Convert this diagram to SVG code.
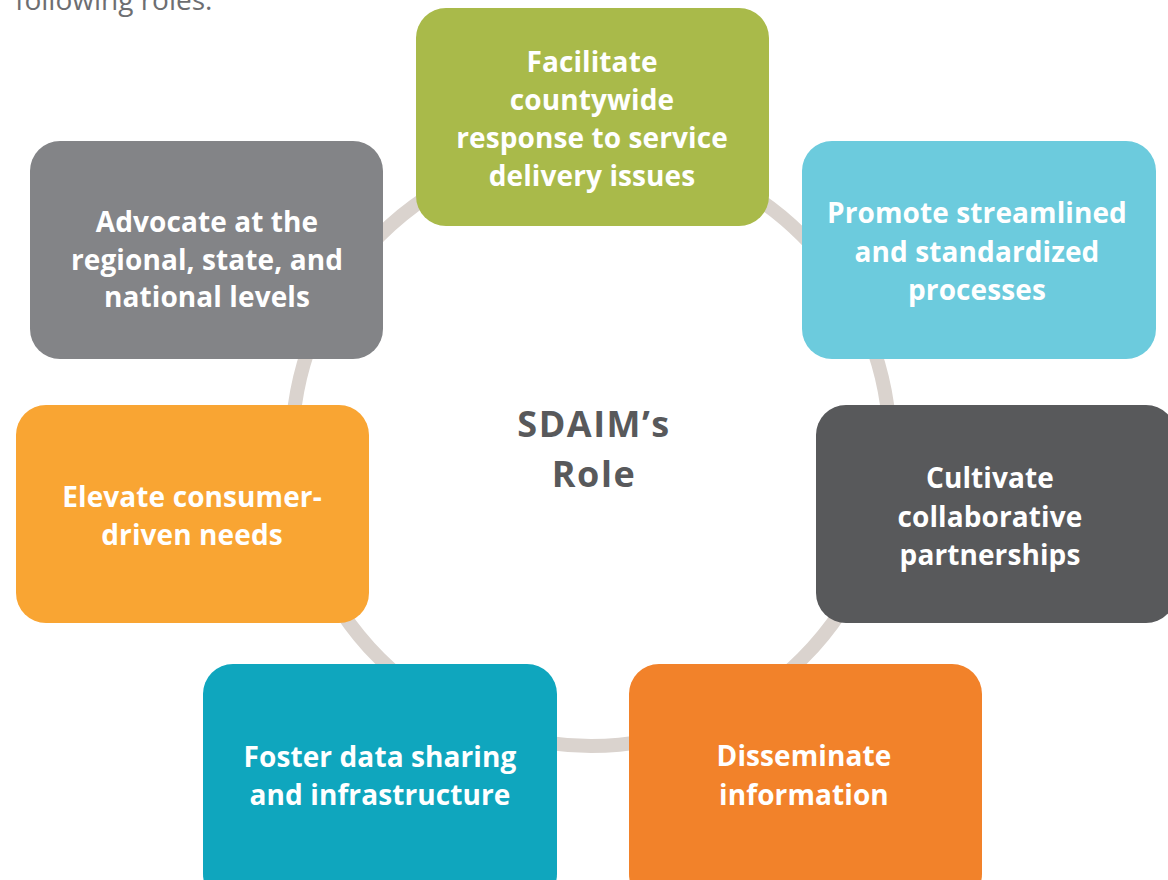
<svg xmlns="http://www.w3.org/2000/svg" width="1168" height="880" viewBox="0 0 1168 880">
<style>
.box{stroke:none}
.t{font-family:"Open Sans","Liberation Sans",sans-serif;font-weight:700;font-size:28px;letter-spacing:0.1px;fill:#ffffff;text-anchor:middle}
.c{font-family:"Open Sans","Liberation Sans",sans-serif;font-weight:700;font-size:36px;letter-spacing:1.5px;fill:#58595b;text-anchor:middle}
.top{font-family:"Open Sans","Liberation Sans",sans-serif;font-size:28px;fill:#6d6e71}
</style>
<rect width="1168" height="880" fill="#ffffff"/>
<text class="top" x="15" y="10">following roles:</text>
<g id="connectors">
<circle cx="591" cy="447" r="299" fill="none" stroke="#dad3ce" stroke-width="14"/>
</g>
<g id="center">
<text class="c" x="594" y="437">SDAIM’s</text>
<text class="c" x="594" y="487">Role</text>
</g>
<g id="n1">
<rect class="box" x="416" y="8" width="353" height="218" rx="30" fill="#a9ba4a"/>
<text class="t" x="592" y="72">Facilitate</text>
<text class="t" x="592" y="110">countywide</text>
<text class="t" x="592" y="148">response to service</text>
<text class="t" x="592" y="186">delivery issues</text>
</g>
<g id="n2">
<rect class="box" x="802" y="141" width="354" height="218" rx="30" fill="#6ccbdd"/>
<text class="t" x="977" y="223">Promote streamlined</text>
<text class="t" x="977" y="262">and standardized</text>
<text class="t" x="977" y="300">processes</text>
</g>
<g id="n3">
<rect class="box" x="816" y="405" width="360" height="218" rx="30" fill="#58595b"/>
<text class="t" x="990" y="488">Cultivate</text>
<text class="t" x="990" y="527">collaborative</text>
<text class="t" x="990" y="565">partnerships</text>
</g>
<g id="n4">
<rect class="box" x="629" y="664" width="353" height="240" rx="30" fill="#f2822a"/>
<text class="t" x="804" y="766">Disseminate</text>
<text class="t" x="804" y="805">information</text>
</g>
<g id="n5">
<rect class="box" x="203" y="664" width="354" height="240" rx="30" fill="#0fa6be"/>
<text class="t" x="380" y="767">Foster data sharing</text>
<text class="t" x="380" y="805">and infrastructure</text>
</g>
<g id="n6">
<rect class="box" x="16" y="405" width="353" height="218" rx="30" fill="#f9a533"/>
<text class="t" x="192" y="507">Elevate consumer-</text>
<text class="t" x="192" y="545">driven needs</text>
</g>
<g id="n7">
<rect class="box" x="30" y="141" width="353" height="218" rx="30" fill="#838487"/>
<text class="t" x="207" y="232">Advocate at the</text>
<text class="t" x="207" y="270">regional, state, and</text>
<text class="t" x="207" y="307">national levels</text>
</g>
</svg>
